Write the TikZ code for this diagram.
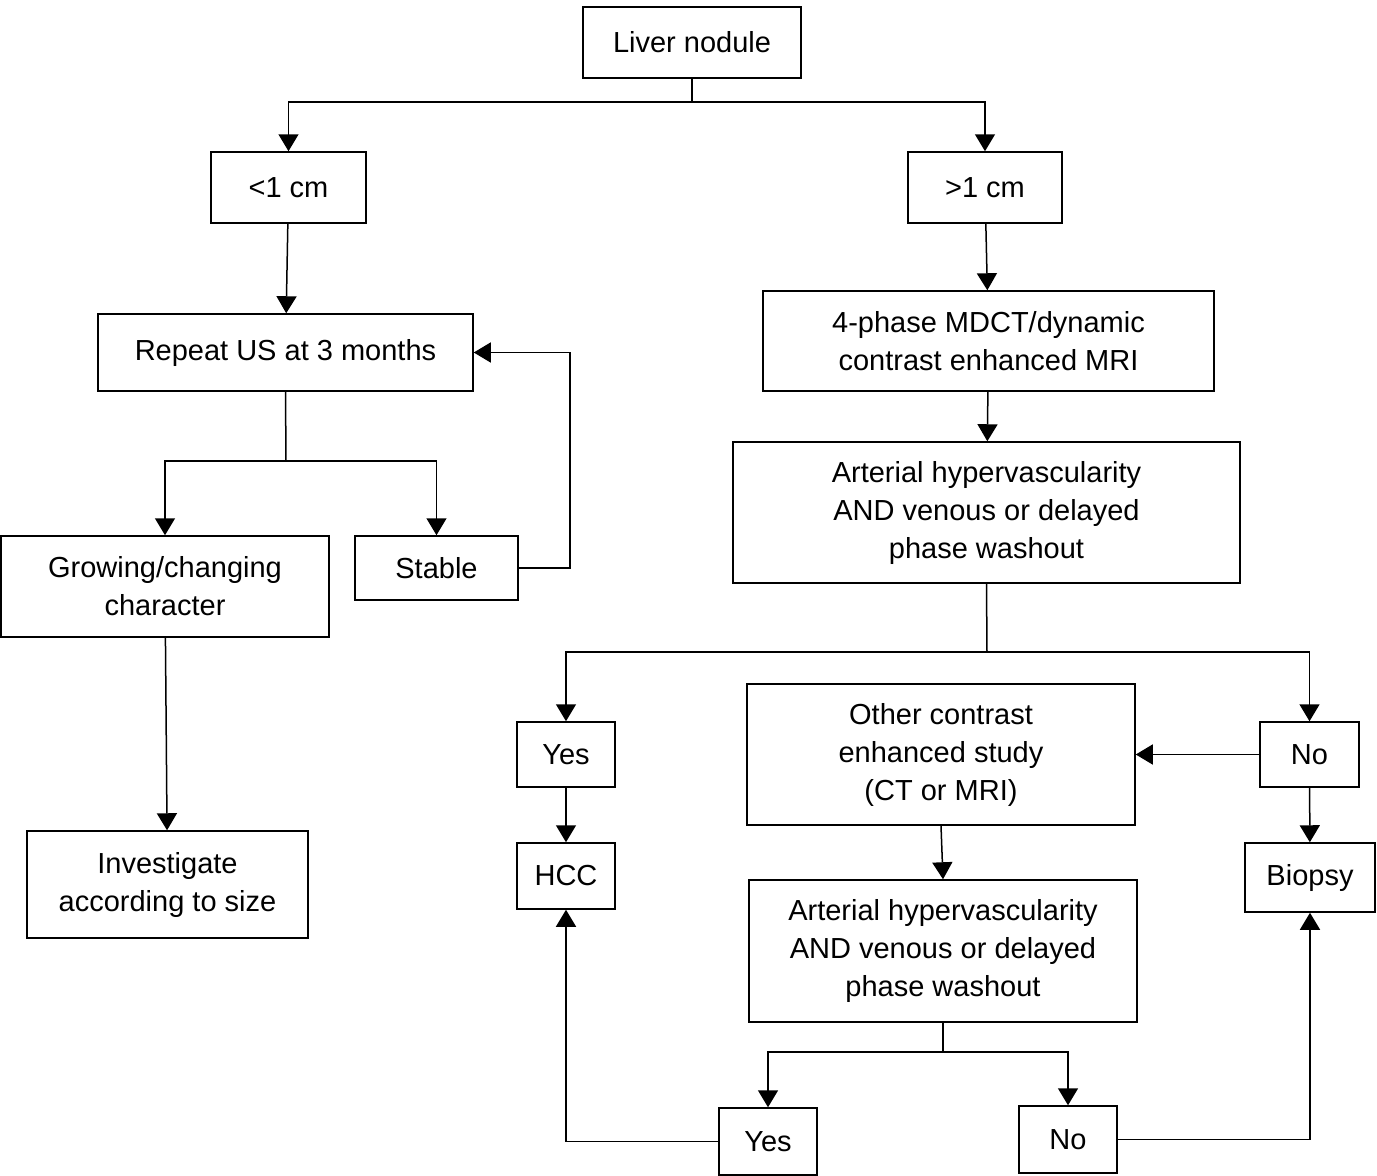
\documentclass[tikz,border=0pt]{standalone}
\usepackage{fontspec}
\setmainfont{Liberation Sans}
\usetikzlibrary{arrows.meta}
\begin{document}
\begin{tikzpicture}[x=1pt,y=-1pt,
  line width=1.5pt,
  arr/.style={-{Triangle[width=20pt,length=17pt]}},
  box/.style={draw,align=center,inner sep=0pt,font=\fontsize{29}{38}\selectfont}]
\useasboundingbox (0,0) rectangle (1377,1176);
\newcommand{\bx}[6]{\node[box,minimum width=#4-#2,minimum height=#5-#3] (#1) at ({(#2+#4)/2},{(#3+#5)/2}) {#6};}
\bx{liver}{583}{7}{801}{78}{Liver nodule}
\bx{lt}{211}{152}{366}{223}{<1 cm}
\bx{gt}{908}{152}{1062}{223}{>1 cm}
\bx{rep}{98}{314}{473}{391}{Repeat US at 3 months}
\bx{mdct}{763}{291}{1214}{391}{4-phase MDCT/dynamic\\contrast enhanced MRI}
\bx{art1}{733}{442}{1240}{583}{Arterial hypervascularity\\AND venous or delayed\\phase washout}
\bx{grow}{1}{536}{329}{637}{Growing/changing\\character}
\bx{stable}{355}{536}{518}{600}{Stable}
\bx{yes1}{517}{722}{615}{787}{Yes}
\bx{other}{747}{684}{1135}{825}{Other contrast\\enhanced study\\(CT or MRI)}
\bx{no1}{1260}{722}{1359}{787}{No}
\bx{hcc}{517}{843}{615}{909}{HCC}
\bx{biopsy}{1245}{843}{1375}{912}{Biopsy}
\bx{inv}{27}{831}{308}{938}{Investigate\\according to size}
\bx{art2}{749}{880}{1137}{1022}{Arterial hypervascularity\\AND venous or delayed\\phase washout}
\bx{yes2}{719}{1108}{817}{1175}{Yes}
\bx{no2}{1019}{1106}{1117}{1173}{No}
\draw (liver.south) -- (692,102) coordinate (a);
\draw[arr] (a) -| (lt.north);
\draw[arr] (a) -| (gt.north);
\draw[arr] (lt) -- (rep);
\draw (rep.south) -- (286,461) coordinate (b);
\draw[arr] (b) -| (grow.north);
\draw[arr] (b) -| (stable.north);
\draw[arr] (stable.east) -- (570,568) |- (rep.east);
\draw[arr] (grow) -- (inv);
\draw[arr] (gt) -- (mdct);
\draw[arr] (mdct) -- (art1);
\draw (art1.south) -- (987,652) coordinate (c);
\draw[arr] (c) -| (yes1.north);
\draw[arr] (c) -| (no1.north);
\draw[arr] (no1) -- (other);
\draw[arr] (yes1) -- (hcc);
\draw[arr] (no1) -- (biopsy);
\draw[arr] (other.south) -- (art2.north);
\draw (art2.south) -- (943,1052) coordinate (d);
\draw[arr] (d) -| (yes2.north);
\draw[arr] (d) -| (no2.north);
\draw[arr] (yes2.west) -| (hcc.south);
\draw[arr] (no2.east) -| (biopsy.south);
\end{tikzpicture}
\end{document}
